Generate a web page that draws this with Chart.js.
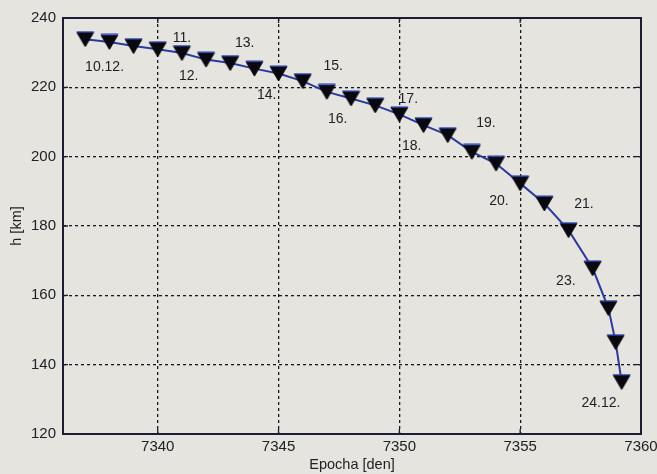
<!DOCTYPE html>
<html><head><meta charset="utf-8">
<script src="https://cdn.jsdelivr.net/npm/chart.js@4"></script>
<style>html,body{margin:0;padding:0;background:#e6e4de;} #wrap{width:657px;height:474px;}</style>
</head><body><div id="wrap"><canvas id="c" width="657" height="474"></canvas></div>
<script>
const epochs = [7337,7338,7339,7340,7341,7342,7343,7344,7345,7346,7347,7348,7349,7350,7351,7352,7353,7354,7355,7356,7357,7358,7358.65,7358.95,7359.2];
const heights = [233.9,233.1,231.9,231.0,229.9,228.0,227.0,225.4,224.0,221.8,218.7,216.8,214.8,212.2,209.1,206.2,201.4,198.0,192.3,186.5,178.8,167.8,156.3,146.5,135.0];
const xTickValues = [7340,7345,7350,7355,7360];
const yTickValues = [120,140,160,180,200,220,240];
const dayLabels = ['10.12.','11.','12.','13.','14.','15.','16.','17.','18.','19.','20.','21.','23.','24.12.'];
const dayLabelX = [7337.80,7341.0,7341.28,7343.6,7344.51,7347.26,7347.45,7350.37,7350.51,7353.58,7354.12,7357.64,7356.89,7358.34];
const dayLabelY = [225.9,234.3,223.3,232.8,217.7,226.1,210.8,216.6,203.0,209.6,187.2,186.3,164.1,128.8];

const FONT = '"Liberation Sans", Arial, sans-serif';
const TXT = '#222226';

const marker = document.createElement('canvas');
marker.width = 19; marker.height = 17;
(function(){
  const g = marker.getContext('2d');
  g.beginPath(); g.moveTo(1,1.5); g.lineTo(18,1.5); g.lineTo(9.5,16); g.closePath();
  g.fillStyle = '#08080e'; g.fill();
  g.strokeStyle = '#08080e'; g.lineWidth = 1; g.stroke();
  g.beginPath(); g.moveTo(1,1.2); g.lineTo(18,1.2);
  g.strokeStyle = '#2f45b0'; g.lineWidth = 1.5; g.stroke();
})();

const overlay = {
  id: 'overlay',
  afterDraw(chart) {
    const ctx = chart.ctx, a = chart.chartArea;
    const xs = chart.scales.x, ys = chart.scales.y;
    ctx.save();
    ctx.strokeStyle = '#1c1c36';
    ctx.lineWidth = 2;
    ctx.strokeRect(a.left, a.top, a.right - a.left, a.bottom - a.top);
    ctx.lineWidth = 1.3;
    ctx.beginPath();
    xTickValues.forEach(v => {
      const px = xs.getPixelForValue(v);
      ctx.moveTo(px, a.bottom); ctx.lineTo(px, a.bottom - 5);
      ctx.moveTo(px, a.top); ctx.lineTo(px, a.top + 5);
    });
    yTickValues.forEach(v => {
      const py = ys.getPixelForValue(v);
      ctx.moveTo(a.left, py); ctx.lineTo(a.left + 5, py);
      ctx.moveTo(a.right, py); ctx.lineTo(a.right - 5, py);
    });
    ctx.stroke();
    ctx.fillStyle = TXT;
    ctx.font = '14px ' + FONT;
    ctx.textAlign = 'center';
    ctx.textBaseline = 'middle';
    dayLabels.forEach((t, i) => {
      ctx.fillText(t, xs.getPixelForValue(dayLabelX[i]), ys.getPixelForValue(dayLabelY[i]));
    });
    ctx.restore();
  }
};

new Chart(document.getElementById('c'), {
  type: 'line',
  data: {
    datasets: [{
      data: epochs.map((x, i) => ({x: x, y: heights[i]})),
      borderColor: '#2b3aa0',
      borderWidth: 2,
      pointStyle: marker,
      pointRadius: 9,
      tension: 0,
      fill: false
    }]
  },
  options: {
    responsive: false,
    devicePixelRatio: 1,
    animation: false,
    layout: {padding: {top: 18, right: 16, left: 0, bottom: 0}},
    plugins: {legend: {display: false}, tooltip: {enabled: false}},
    scales: {
      x: {
        type: 'linear', min: 7336.08, max: 7360,
        afterBuildTicks: s => { s.ticks = xTickValues.map(v => ({value: v})); },
        afterFit: s => { s.height = 40; s.paddingLeft = 0; s.paddingRight = 0; },
        ticks: {font: {size: 15, family: FONT}, color: TXT, padding: 4, maxRotation: 0, autoSkip: false, callback: v => String(v)},
        grid: {color: '#1a1a1a', lineWidth: 1.3, drawTicks: false},
        border: {display: false, dash: [3, 3]},
        title: {display: true, text: 'Epocha [den]', font: {size: 14.5, family: FONT}, color: TXT, padding: {top: 0, bottom: 0}}
      },
      y: {
        type: 'linear', min: 120, max: 240,
        afterBuildTicks: s => { s.ticks = yTickValues.map(v => ({value: v})); },
        afterFit: s => { s.width = 63; s.paddingTop = 0; s.paddingBottom = 0; },
        ticks: {font: {size: 15, family: FONT}, color: TXT, padding: 7, callback: v => String(v)},
        grid: {color: '#1a1a1a', lineWidth: 1.3, drawTicks: false},
        border: {display: false, dash: [3, 3]},
        title: {display: true, text: 'h [km]', font: {size: 14.5, family: FONT}, color: TXT, padding: {top: 8, bottom: 0}}
      }
    }
  },
  plugins: [overlay]
});
</script>
</body></html>
